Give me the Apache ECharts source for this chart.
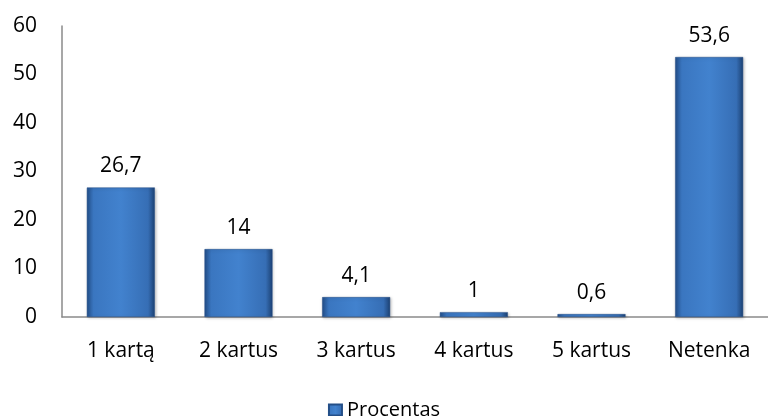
<!DOCTYPE html>
<html>
<head>
<meta charset="utf-8">
<script src="https://cdn.jsdelivr.net/npm/echarts@6/dist/echarts.min.js"></script>
<style>
  html, body { margin: 0; padding: 0; background: #fff; }
  #chart { width: 768px; height: 416px; }
</style>
</head>
<body>
<div id="chart"></div>
<script>
// Share of respondents by number of cards
const categories = ['1 kartą', '2 kartus', '3 kartus', '4 kartus', '5 kartus', 'Netenka'];
const values = [26.7, 14, 4.1, 1, 0.6, 53.6];
const seriesName = 'Procentas';

const font = '"Open Sans", "Noto Sans", sans-serif';

// Bevelled blue bar fill: darker edges, lighter centre
const barFill = new echarts.graphic.LinearGradient(0, 0, 1, 0, [
  { offset: 0, color: '#234f8a' },
  { offset: 0.1, color: '#3a76c0' },
  { offset: 0.5, color: '#4282ce' },
  { offset: 0.9, color: '#366eb5' },
  { offset: 1, color: '#1c4173' }
]);

const chart = echarts.init(document.getElementById('chart'));
chart.setOption({
  animation: false,
  grid: { left: 62, right: -6, top: 26, bottom: 99, containLabel: false },
  legend: {
    bottom: -9,
    left: 'center',
    itemWidth: 13,
    itemHeight: 11,
    itemGap: 4,
    textStyle: { fontFamily: font, fontSize: 20, color: '#000' },
    data: [{ name: seriesName, icon: 'rect' }]
  },
  xAxis: {
    type: 'category',
    data: categories,
    axisLine: { lineStyle: { color: '#8a8a8a', width: 1.5 } },
    axisTick: { show: false },
    axisLabel: { margin: 24, fontFamily: font, fontSize: 21, color: '#000' }
  },
  yAxis: {
    type: 'value',
    min: 0,
    max: 60,
    interval: 10,
    axisLine: { show: true, lineStyle: { color: '#8a8a8a', width: 1.5 } },
    axisTick: { show: false },
    splitLine: { show: false },
    axisLabel: { margin: 25, fontFamily: font, fontSize: 21, color: '#000' }
  },
  series: [{
    name: seriesName,
    type: 'bar',
    data: values,
    barWidth: 68,
    itemStyle: {
      color: barFill,
      borderColor: '#244f88',
      borderWidth: 0.5,
      shadowColor: 'rgba(0,0,0,0.25)',
      shadowBlur: 3,
      shadowOffsetX: 1,
      shadowOffsetY: 1
    },
    label: {
      show: true,
      position: 'top',
      distance: 11,
      fontFamily: font,
      fontSize: 21,
      color: '#000',
      formatter: p => String(p.value).replace('.', ',')
    }
  }]
});
</script>
</body>
</html>
